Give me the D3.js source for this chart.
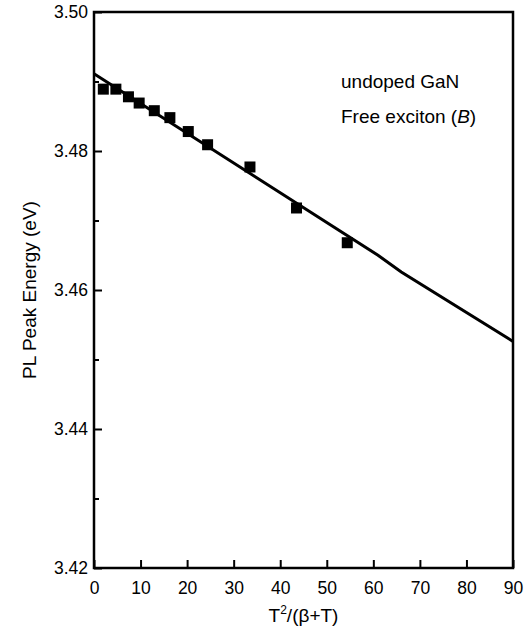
<!DOCTYPE html>
<html><head><meta charset="utf-8">
<script src="https://cdn.jsdelivr.net/npm/d3@7"></script>
<style>body{margin:0;background:#fff}svg{display:block}text{font-family:"Liberation Sans",Arial,sans-serif;fill:#000}</style>
</head><body><svg id="c" width="528" height="631"></svg>
<script>
const xData = [2.0, 4.7, 7.4, 9.7, 12.95, 16.3, 20.25, 24.4, 33.5, 43.5, 54.4];
const yData = [3.4889, 3.4889, 3.4878, 3.4869, 3.4858, 3.4848, 3.4828, 3.4809, 3.4777, 3.4718, 3.4668];
const fitX = [0, 61, 66, 90];
const fitY = [3.4911, 3.4650, 3.4626, 3.4526];
const xTicks = [0, 10, 20, 30, 40, 50, 60, 70, 80, 90];
const yTicks = [3.42, 3.44, 3.46, 3.48, 3.50];
const yMinor = [3.43, 3.45, 3.47, 3.49];
const notes = ["undoped GaN", "Free exciton (", "B", ")"];

const L = 94, R = 513, T = 12, B = 568;
const svg = d3.select("#c");
const x = d3.scaleLinear().domain([0, 90]).range([L, R]);
const y = d3.scaleLinear().domain([3.42, 3.50]).range([B, T]);

// y axis (ticks inward)
const ya = svg.append("g").attr("transform", `translate(${L},0)`)
  .call(d3.axisLeft(y).tickValues(yTicks).tickFormat(d3.format(".2f")).tickSize(-8));
ya.select(".domain").remove();
ya.selectAll("line").attr("stroke", "#000").attr("stroke-width", 2);
ya.selectAll("text").attr("font-size", 17.5).attr("text-anchor", "end").attr("x", -6);
svg.append("g").attr("transform", `translate(${L},0)`)
  .call(d3.axisLeft(y).tickValues(yMinor).tickFormat("").tickSize(-5))
  .call(g => g.select(".domain").remove())
  .selectAll("line").attr("stroke", "#000").attr("stroke-width", 2);

// x axis
const xa = svg.append("g").attr("transform", `translate(0,${B})`)
  .call(d3.axisBottom(x).tickValues(xTicks).tickSize(-8).tickPadding(14));
xa.select(".domain").remove();
xa.selectAll("line").attr("stroke", "#000").attr("stroke-width", 2);
xa.selectAll("text").attr("font-size", 17.5);

// frame
svg.append("rect").attr("x", L).attr("y", T).attr("width", R - L).attr("height", B - T)
  .attr("fill", "none").attr("stroke", "#000").attr("stroke-width", 2.5);

// fit line
const line = d3.line().x((d, i) => x(fitX[i])).y(d => y(d));
svg.append("path").attr("d", line(fitY)).attr("fill", "none").attr("stroke", "#000").attr("stroke-width", 3);

// points
svg.append("g").selectAll("rect").data(xData).join("rect")
  .attr("x", (d) => x(d) - 5.5).attr("y", (d, i) => y(yData[i]) - 5.5)
  .attr("width", 11).attr("height", 11).attr("fill", "#000");

// annotations
svg.append("text").attr("x", 341).attr("y", 88).attr("font-size", 19).text(notes[0]);
const t2 = svg.append("text").attr("x", 341).attr("y", 123).attr("font-size", 19);
t2.append("tspan").text(notes[1]);
t2.append("tspan").attr("font-style", "italic").text(notes[2]);
t2.append("tspan").text(notes[3]);

// axis titles
const xt = svg.append("text").attr("x", (L + R) / 2).attr("y", 622).attr("text-anchor", "middle").attr("font-size", 19);
xt.append("tspan").text("T");
xt.append("tspan").attr("dy", -8).attr("font-size", 12).text("2");
xt.append("tspan").attr("dy", 8).text("/(β+T)");

svg.append("text").attr("transform", "translate(36,290) rotate(-90)").attr("text-anchor", "middle")
  .attr("font-size", 19).text("PL Peak Energy (eV)");
</script></body></html>
